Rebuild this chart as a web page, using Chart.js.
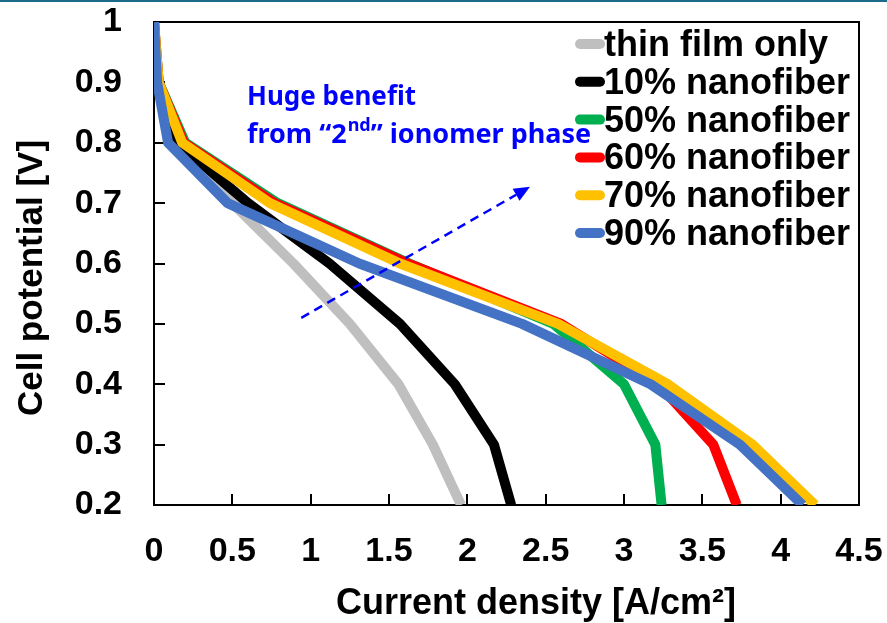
<!DOCTYPE html>
<html>
<head>
<meta charset="utf-8">
<script src="https://cdn.jsdelivr.net/npm/chart.js@4.4.0/dist/chart.umd.min.js"></script>
<style>
  html, body { margin: 0; padding: 0; background: #fff; }
  #wrap { width: 887px; height: 623px; }
</style>
</head>
<body>
<div id="wrap"><canvas id="myChart" width="887" height="623"></canvas></div>
<script>
// cell voltage steps shared by every curve
const voltage = [1.0, 0.9, 0.8, 0.7, 0.6, 0.5, 0.4, 0.3, 0.2];

const seriesNames = ['thin film only', '10% nanofiber', '50% nanofiber', '60% nanofiber', '70% nanofiber', '90% nanofiber'];
const seriesColors = ['#bfbfbf', '#000000', '#00b050', '#ff0000', '#ffc000', '#4472c4'];

// current density [A/cm2] at each voltage step
const thinFilm = [0, 0.02, 0.13, 0.50, 0.89, 1.25, 1.56, 1.78, 1.96];
const nf10 = [0, 0.02, 0.15, 0.60, 1.12, 1.57, 1.92, 2.17, 2.28];
const nf50 = [0, 0.03, 0.20, 0.79, 1.63, 2.55, 3.00, 3.20, 3.24];
const nf60 = [0, 0.03, 0.19, 0.77, 1.62, 2.60, 3.22, 3.57, 3.72];
const nf70 = [0, 0.03, 0.18, 0.74, 1.57, 2.58, 3.28, 3.82, 4.22];
const nf90 = [0, 0.02, 0.09, 0.47, 1.31, 2.35, 3.17, 3.74, 4.14];
const allSeries = [thinFilm, nf10, nf50, nf60, nf70, nf90];

const xTickLabels = ['0', '0.5', '1', '1.5', '2', '2.5', '3', '3.5', '4', '4.5'];
const yTickLabels = ['0.2', '0.3', '0.4', '0.5', '0.6', '0.7', '0.8', '0.9', '1'];

const xTitle = 'Current density [A/cm²]';
const yTitle = 'Cell potential [V]';
const noteLine1 = 'Huge benefit';
const noteLine2 = ['from “2', 'nd', '” ionomer phase'];
// arrow start / end in data units
const arrowFrom = { x: 0.94, y: 0.51 };
const arrowTo = { x: 2.40, y: 0.727 };

let datasets = [];
allSeries.forEach(function (arr, i) {
    datasets.push({
        label: seriesNames[i],
        data: voltage.map(function (v, k) { return { x: arr[k], y: v }; }),
        borderColor: seriesColors[i],
        backgroundColor: seriesColors[i],
        borderWidth: 10,
        pointRadius: 0,
        tension: 0,
        fill: false,
        clip: 0,
        borderJoinStyle: 'round',
        order: allSeries.length - i,
    });
});

const framePlugin = {
    id: 'frame',
    beforeDatasetsDraw(chart) {
        const ctx = chart.ctx;
        const a = chart.chartArea;
        const xs = chart.scales.x;
        const ys = chart.scales.y;
        ctx.save();
        ctx.strokeStyle = '#000';
        ctx.lineWidth = 2;
        ctx.strokeRect(a.left, a.top, a.right - a.left, a.bottom - a.top);
        // inward tick marks
        ctx.beginPath();
        xs.ticks.forEach(function (t) {
            const px = Math.round(xs.getPixelForValue(t.value));
            ctx.moveTo(px, a.bottom);
            ctx.lineTo(px, a.bottom - 11);
        });
        ys.ticks.forEach(function (t) {
            const py = Math.round(ys.getPixelForValue(t.value));
            ctx.moveTo(a.left, py);
            ctx.lineTo(a.left + 11, py);
        });
        ctx.stroke();
        ctx.restore();
    },
    afterDraw(chart) {
        const ctx = chart.ctx;
        const xs = chart.scales.x;
        const ys = chart.scales.y;
        ctx.save();

        // teal rule across the top
        ctx.fillStyle = '#1d6a8a';
        ctx.fillRect(0, 0, chart.width, 2);

        // axis titles
        ctx.fillStyle = '#000';
        ctx.textAlign = 'center';
        ctx.textBaseline = 'alphabetic';
        ctx.font = 'bold 36px "Liberation Sans", Arial, sans-serif';
        ctx.fillText(xTitle, 536, 614);
        ctx.save();
        ctx.font = 'bold 35px "Liberation Sans", Arial, sans-serif';
        ctx.translate(42, 278);
        ctx.rotate(-Math.PI / 2);
        ctx.fillText(yTitle, 0, 0);
        ctx.restore();

        // legend inside plot
        ctx.textAlign = 'left';
        ctx.textBaseline = 'middle';
        ctx.lineCap = 'round';
        ctx.font = 'bold 36px "Liberation Sans", Arial, sans-serif';
        chart.data.datasets.forEach(function (ds, i) {
            const cy = 44 + i * 37.8;
            ctx.strokeStyle = ds.borderColor;
            ctx.lineWidth = 10;
            ctx.beginPath();
            ctx.moveTo(580, cy);
            ctx.lineTo(600, cy);
            ctx.stroke();
            ctx.fillStyle = '#000';
            ctx.fillText(ds.label, 604, cy + 2);
        });

        // annotation text
        ctx.fillStyle = '#0000ff';
        ctx.textBaseline = 'alphabetic';
        ctx.font = 'bold 26px "Noto Sans", sans-serif';
        ctx.fillText(noteLine1, 247, 105);
        let tx = 247;
        ctx.font = 'bold 27px "Noto Sans", sans-serif';
        ctx.fillText(noteLine2[0], tx, 143);
        tx += ctx.measureText(noteLine2[0]).width;
        ctx.font = 'bold 18px "Noto Sans", sans-serif';
        ctx.fillText(noteLine2[1], tx + 1, 131);
        tx += ctx.measureText(noteLine2[1]).width + 1;
        ctx.font = 'bold 27px "Noto Sans", sans-serif';
        ctx.fillText(noteLine2[2], tx, 143);

        // dashed arrow
        const x1 = xs.getPixelForValue(arrowFrom.x), y1 = ys.getPixelForValue(arrowFrom.y);
        const x2 = xs.getPixelForValue(arrowTo.x), y2 = ys.getPixelForValue(arrowTo.y);
        const ang = Math.atan2(y2 - y1, x2 - x1);
        const head = 16;
        ctx.strokeStyle = '#0000ff';
        ctx.lineWidth = 2.5;
        ctx.lineCap = 'butt';
        ctx.setLineDash([9, 6]);
        ctx.beginPath();
        ctx.moveTo(x1, y1);
        ctx.lineTo(x2 - head * Math.cos(ang), y2 - head * Math.sin(ang));
        ctx.stroke();
        ctx.setLineDash([]);
        ctx.fillStyle = '#0000ff';
        ctx.beginPath();
        ctx.moveTo(x2, y2);
        ctx.lineTo(x2 - head * Math.cos(ang) + 7 * Math.sin(ang), y2 - head * Math.sin(ang) - 7 * Math.cos(ang));
        ctx.lineTo(x2 - head * Math.cos(ang) - 7 * Math.sin(ang), y2 - head * Math.sin(ang) + 7 * Math.cos(ang));
        ctx.closePath();
        ctx.fill();

        ctx.restore();
    },
};

const ctx = document.getElementById('myChart').getContext('2d');
window.myChart = new Chart(ctx, {
    type: 'line',
    data: { datasets: datasets },
    options: {
        responsive: false,
        animation: false,
        layout: { padding: { top: 22, right: 28, left: 0, bottom: 0 } },
        plugins: {
            legend: { display: false },
            tooltip: { enabled: false },
        },
        scales: {
            x: {
                type: 'linear',
                min: 0,
                max: 4.5,
                afterBuildTicks: function (scale) {
                    scale.ticks = xTickLabels.map(function (t) { return { value: parseFloat(t) }; });
                },
                afterFit: function (scale) {
                    scale.height = 118;
                    scale.paddingLeft = 0;
                    scale.paddingRight = 0;
                },
                grid: { drawOnChartArea: false, drawTicks: false },
                border: { display: false },
                ticks: {
                    autoSkip: false,
                    maxRotation: 0,
                    padding: 26,
                    color: '#000',
                    font: { family: '"Liberation Sans", Arial, sans-serif', size: 34, weight: 'bold' },
                    callback: function (v, i) { return xTickLabels[i]; },
                },
            },
            y: {
                type: 'linear',
                min: 0.2,
                max: 1,
                afterBuildTicks: function (scale) {
                    scale.ticks = yTickLabels.map(function (t) { return { value: parseFloat(t) }; });
                },
                afterFit: function (scale) {
                    scale.width = 154;
                    scale.paddingTop = 0;
                    scale.paddingBottom = 0;
                },
                grid: { drawOnChartArea: false, drawTicks: false },
                border: { display: false },
                ticks: {
                    autoSkip: false,
                    padding: 32,
                    color: '#000',
                    font: { family: '"Liberation Sans", Arial, sans-serif', size: 34, weight: 'bold' },
                    callback: function (v, i) { return yTickLabels[i]; },
                },
            },
        },
    },
    plugins: [framePlugin],
});
</script>
</body>
</html>
